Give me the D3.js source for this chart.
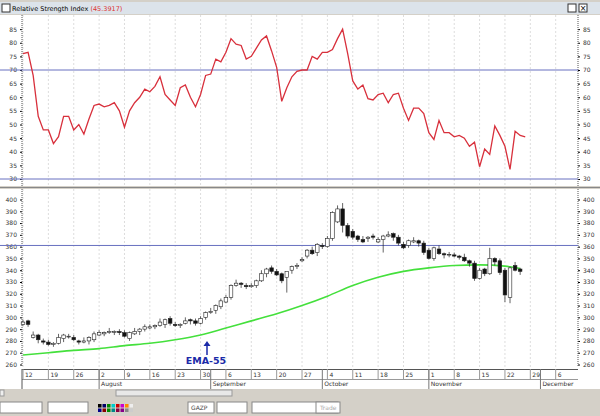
<!DOCTYPE html>
<html><head><meta charset="utf-8">
<script src="https://cdn.jsdelivr.net/npm/d3@7"></script>
<style>body{margin:0;background:#d4d0c8}svg{display:block}text{font-family:"DejaVu Sans",sans-serif}</style>
</head><body>
<script>
// daily candles, Jul 12 .. Nov 24
const open = [294,297,283,285,280, 279,277,278,282,284, 283,280,279,280,281, 285,286,287,288,288,
  287,282,286,288,290, 291,292,293,294,299, 294,293,295,298,297, 295,300,304,306,309,
  313,317,327,329,327, 326,327,331,337,342, 339,337,334,340,343, 348,352,357,355,361,
  360,367,381,392,378, 373,369,366,367,369, 364,366,369,371,368, 362,361,364,365,363,
  357,350,358,354,353, 353,352,351,348,346, 333,341,337,350,348, 340,317,344,341]
const close = [296,294,285,281,279, 277,278,283,285,284, 281,279,280,283,286, 287,287,288,288,287,
  284,287,288,290,292, 292,293,296,298,295, 293,294,297,297,295, 299,304,305,310,314,
  317,327,329,328,326, 327,331,337,341,339, 336,331,339,343,344, 349,357,354,362,360,
  367,389,392,378,369, 368,366,364,368,368, 366,369,370,368,363, 359,365,365,363,355,
  350,359,354,353,353.5, 352,351,348,346,333, 340,337,350,347,338, 319,342,340,339]
const high = close.map((c, i) => Math.max(c, open[i]) + [2,1,3,1,2][i % 5])
const low = close.map((c, i) => Math.min(c, open[i]) - [1,2,1,3,2][i % 5])
high[63] = 397; low[63] = 372; low[65] = 366; low[71] = 355; low[95] = 313; high[92] = 359; low[96] = 312; high[52] = 337; low[52] = 321

const rsi = [76,76.5,68,53,48,48,43,45.5,53,53,48,50,46.5,52,57,57.5,56.5,57,58,55,49,55,58,60,63,62,64,67.5,
  61,59,57,63.5,64.5,60,56.5,61,68,68.5,74,73,76.5,81.5,79.5,79,74,75,78,81,82.5,77,71,58.5,63.5,67.5,69.5,70,
  70,75,74,76.5,76.5,77.5,81.5,85,76,66,63,64.5,59.5,59,61,61.5,58,61,61.5,56,51.5,56,56,54,47,44.5,51.5,
  47,47,45.5,46,45,42,43.5,34.5,41,39,49.5,46,42,33.5,47.5,46,45.5]

// EMA-55 read weekly (Mondays) and at the last bar
const emaIdx = [0,5,10,15,20,25,30,35,40,45,50,55,60,65,70,75,80,85,90,95,98]
const ema = [268,270,272,273.5,276,278,281,285,291,297,303,310,318,327,334,339,342,344,344.5,343.5,341.5]

const monthNames = ["August","September","October","November","December"]

// trading calendar
const days = []
for (let d = new Date(2010, 6, 12); days.length < 112; d.setDate(d.getDate() + 1))
  if (d.getDay() > 0 && d.getDay() < 6) days.push(new Date(d))

const W = 600, H = 416, L = 22, R = 578
const svg = d3.select("body").append("svg").attr("width", W).attr("height", H)
const x = d3.scaleLinear().domain([-0.2, 109.4]).range([L, R])
const yR = d3.scaleLinear().domain([30, 70]).range([179, 70])
const yP = d3.scaleLinear().domain([260, 400]).range([364.5, 199.5])

svg.append("rect").attr("width", W).attr("height", H).attr("fill", "#d4d0c8")
// title bar
svg.append("rect").attr("x", 0).attr("y", 2).attr("width", W).attr("height", 12).attr("fill", "#dce3ea")
svg.append("rect").attr("x", 2).attr("y", 4).attr("width", 8).attr("height", 8).attr("fill", "#fff").attr("stroke", "#333")
const tt = svg.append("text").attr("x", 12).attr("y", 11).attr("font-size", 6.5)
tt.append("tspan").text("Relative Strength Index ")
tt.append("tspan").attr("fill", "#d33").text("(45.3917)")
svg.append("rect").attr("x", 568).attr("y", 4).attr("width", 8).attr("height", 8).attr("fill", "#fff").attr("stroke", "#333")
svg.append("rect").attr("x", 579).attr("y", 4).attr("width", 8).attr("height", 8).attr("fill", "#fff").attr("stroke", "#333")
svg.append("text").attr("x", 583).attr("y", 11).attr("font-size", 8).attr("text-anchor", "middle").text("×")

// panels
svg.append("rect").attr("x", 0).attr("y", 15).attr("width", W).attr("height", 171).attr("fill", "#fff")
svg.append("rect").attr("x", 0).attr("y", 189).attr("width", W).attr("height", 178).attr("fill", "#fff")
svg.append("rect").attr("x", 0).attr("y", 367).attr("width", W).attr("height", 22).attr("fill", "#fff")
svg.append("line").attr("x1", 0).attr("x2", W).attr("y1", 187.5).attr("y2", 187.5).attr("stroke", "#888")

const mondays = days.map((d, i) => ({ d, i })).filter(o => o.d.getDay() === 1 && o.i <= 109)
const monthStarts = days.map((d, i) => ({ d, i })).filter(o => o.i > 0 && o.d.getMonth() !== days[o.i - 1].getMonth())

// grid
for (const [y0, y1] of [[15, 186], [189, 367]])
  svg.append("g").selectAll("line").data(mondays).join("line")
    .attr("x1", o => x(o.i)).attr("x2", o => x(o.i)).attr("y1", y0).attr("y2", y1)
    .attr("stroke", "#ddd").attr("stroke-dasharray", "2,2")

// axes
const axL = (g, s, ticks) => g.call(d3.axisLeft(s).tickValues(ticks).tickSize(2))
const axR = (g, s, ticks) => g.call(d3.axisRight(s).tickValues(ticks).tickSize(2))
const rt = d3.range(30, 90, 5), pt = d3.range(260, 410, 10)
for (const [s, t] of [[yR, rt], [yP, pt]]) {
  svg.append("g").attr("transform", `translate(${L},0)`).call(g => axL(g, s, t))
  svg.append("g").attr("transform", `translate(${R},0)`).call(g => axR(g, s, t))
}
svg.selectAll(".domain").remove()
svg.selectAll(".tick text").attr("font-size", 6).attr("fill", "#333")
for (const [y0, y1] of [[15, 186], [189, 367]])
  for (const xx of [L, R])
    svg.append("line").attr("x1", xx).attr("x2", xx).attr("y1", y0).attr("y2", y1)
      .attr("stroke", "#555").attr("stroke-dasharray", "1,1")

// reference lines
for (const v of [30, 70])
  svg.append("line").attr("x1", 0).attr("x2", R).attr("y1", yR(v)).attr("y2", yR(v)).attr("stroke", "#6870c0")
svg.append("line").attr("x1", 0).attr("x2", R).attr("y1", yP(361)).attr("y2", yP(361)).attr("stroke", "#6870c0")

// RSI
svg.append("path").datum(rsi).attr("fill", "none").attr("stroke", "#d8303c").attr("stroke-width", 1.3)
  .attr("d", d3.line().x((d, i) => x(i)).y(d => yR(d)))

// EMA
svg.append("path").datum(ema).attr("fill", "none").attr("stroke", "#44e03c").attr("stroke-width", 1.6)
  .attr("d", d3.line().curve(d3.curveMonotoneX).x((d, i) => x(emaIdx[i])).y(d => yP(d)))

// candles
const cg = svg.append("g").selectAll("g").data(close).join("g")
cg.append("line").attr("x1", (d, i) => x(i)).attr("x2", (d, i) => x(i))
  .attr("y1", (d, i) => yP(high[i])).attr("y2", (d, i) => yP(low[i])).attr("stroke", "#222").attr("stroke-width", 0.7)
cg.append("rect").attr("x", (d, i) => x(i) - 1.8).attr("width", 3.6)
  .attr("y", (d, i) => yP(Math.max(d, open[i])))
  .attr("height", (d, i) => Math.max(0.8, Math.abs(yP(d) - yP(open[i]))))
  .attr("fill", (d, i) => d >= open[i] ? "#fff" : "#111").attr("stroke", "#222").attr("stroke-width", 0.6)

// EMA-55 annotation
svg.append("text").attr("x", 206).attr("y", 364).attr("text-anchor", "middle")
  .attr("font-size", 9.5).attr("font-weight", "bold").attr("fill", "#1a2aa8").text("EMA-55")
svg.append("line").attr("x1", 207).attr("x2", 207).attr("y1", 355).attr("y2", 344).attr("stroke", "#1a2aa8").attr("stroke-width", 1.5)
svg.append("path").attr("d", "M203.5,346 L207,341 L210.5,346 Z").attr("fill", "#1a2aa8")

// x axis
svg.append("line").attr("x1", L).attr("x2", R).attr("y1", 369.5).attr("y2", 369.5).attr("stroke", "#555")
svg.append("line").attr("x1", L).attr("x2", R).attr("y1", 379.5).attr("y2", 379.5).attr("stroke", "#999")
svg.append("line").attr("x1", L).attr("x2", L).attr("y1", 369).attr("y2", 389).attr("stroke", "#555")
const xt = svg.append("g").selectAll("g").data(mondays).join("g")
xt.append("line").attr("x1", o => x(o.i)).attr("x2", o => x(o.i)).attr("y1", 369).attr("y2", 379).attr("stroke", "#999")
xt.append("text").attr("x", o => x(o.i) + 2).attr("y", 377).attr("font-size", 6).attr("fill", "#333").text(o => o.d.getDate())
const mt = svg.append("g").selectAll("g").data(monthStarts).join("g")
mt.append("line").attr("x1", o => x(o.i)).attr("x2", o => x(o.i)).attr("y1", 369).attr("y2", 389).attr("stroke", "#777")
mt.append("text").attr("x", o => x(o.i) + 2).attr("y", 386).attr("font-size", 6).attr("fill", "#333").text((o, k) => monthNames[k])

// toolbar
svg.append("rect").attr("x", 0).attr("y", 396).attr("width", W).attr("height", 20).attr("fill", "#d4d0c8")
svg.append("rect").attr("x", 116).attr("y", 390).attr("width", 116).attr("height", 6).attr("fill", "#e8e8e8").attr("stroke", "#999")
svg.append("rect").attr("x", 0).attr("y", 390).attr("width", 4).attr("height", 6).attr("fill", "#eee").attr("stroke", "#999")
const boxes = [[0, 42], [48, 40], [188, 26], [217, 30], [252, 86], [316, 24]]
svg.append("g").selectAll("rect").data(boxes).join("rect")
  .attr("x", d => d[0]).attr("y", 402).attr("width", d => d[1]).attr("height", 11)
  .attr("fill", "#fff").attr("stroke", "#888")
svg.append("text").attr("x", 191).attr("y", 410).attr("font-size", 6).attr("fill", "#444").text("GAZP")
svg.append("text").attr("x", 320).attr("y", 410).attr("font-size", 6).attr("fill", "#aaa").text("Trade")
const pal = ["#000","#006","#080","#0cc","#c00","#c0c","#f80","#eee","#008","#800","#080","#088","#804","#808","#888","#ccc"]
svg.append("g").selectAll("rect").data(pal).join("rect")
  .attr("x", (d, i) => 98 + (i % 8) * 4.5).attr("y", (d, i) => 404 + Math.floor(i / 8) * 4.5)
  .attr("width", 3.5).attr("height", 3.5).attr("fill", d => d)
</script>
</body></html>
